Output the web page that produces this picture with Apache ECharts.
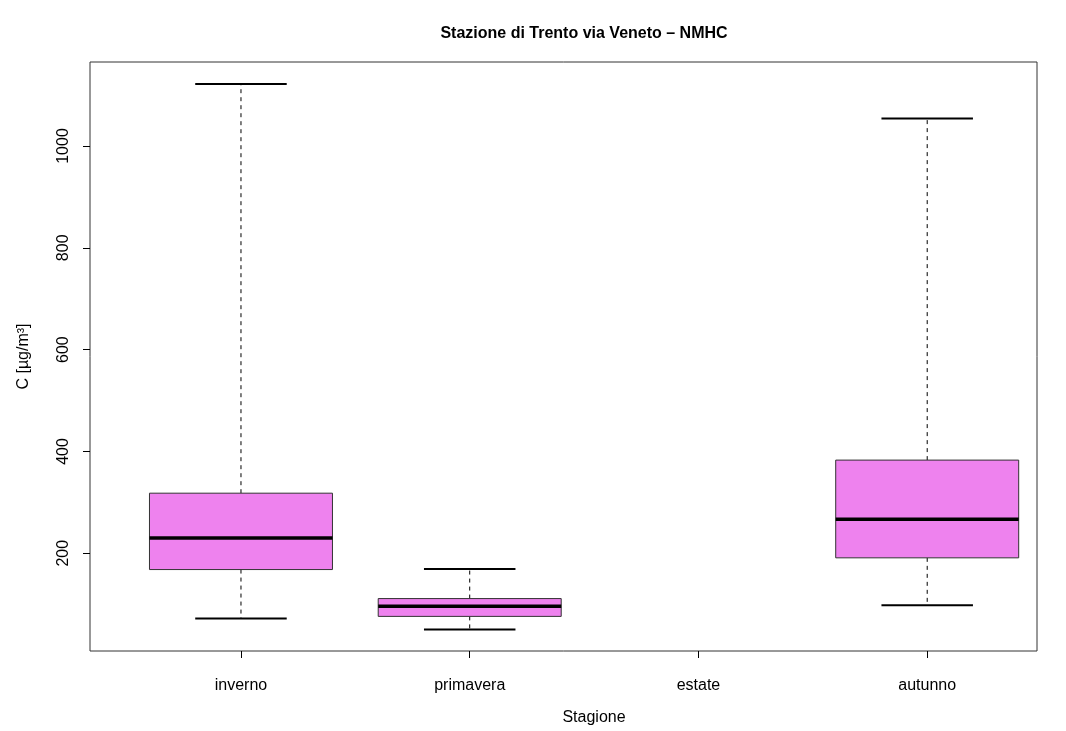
<!DOCTYPE html>
<html>
<head>
<meta charset="utf-8">
<script src="https://cdn.jsdelivr.net/npm/echarts@6/dist/echarts.min.js"></script>
<style>html,body{margin:0;padding:0;background:#fff}#c{width:1066px;height:731px}</style>
</head>
<body>
<div id="c"></div>
<script>
// Data
const categories = ['inverno', 'primavera', 'estate', 'autunno'];
const lowWhisker = [72, 50, null, 98];
const q1Values   = [168, 76, null, 191];
const medians    = [230, 96, null, 267];
const q3Values   = [318, 111, null, 383];
const highWhisker = [1122, 169, null, 1054];
const yTicks = [200, 400, 600, 800, 1000];
const xTicks = [1, 2, 3, 4];

const boxData = [];
for (let i = 0; i < categories.length; i++) {
  if (medians[i] == null) continue;
  boxData.push([i + 1, lowWhisker[i], q1Values[i], medians[i], q3Values[i], highWhisker[i]]);
}

const FONT = '"Liberation Sans", Arial, Helvetica, sans-serif';
const chart = echarts.init(document.getElementById('c'), null, {renderer: 'canvas'});

function renderItem(params, api) {
  const x = api.value(0);
  const lo = api.coord([x, api.value(1)]);
  const q1 = api.coord([x, api.value(2)]);
  const md = api.coord([x, api.value(3)]);
  const q3 = api.coord([x, api.value(4)]);
  const hi = api.coord([x, api.value(5)]);
  const boxW = api.size([0.8, 0])[0];
  const capW = api.size([0.4, 0])[0];
  const cx = md[0];
  const dash = {stroke: '#000', lineWidth: 1, lineDash: [4, 4]};
  return {
    type: 'group',
    children: [
      {type: 'line', shape: {x1: cx, y1: q3[1], x2: cx, y2: hi[1]}, style: dash},
      {type: 'line', shape: {x1: cx, y1: q1[1], x2: cx, y2: lo[1]}, style: dash},
      {type: 'line', shape: {x1: cx - capW / 2, y1: hi[1], x2: cx + capW / 2, y2: hi[1]}, style: {stroke: '#000', lineWidth: 2}},
      {type: 'line', shape: {x1: cx - capW / 2, y1: lo[1], x2: cx + capW / 2, y2: lo[1]}, style: {stroke: '#000', lineWidth: 2}},
      {type: 'rect', shape: {x: cx - boxW / 2, y: q3[1], width: boxW, height: q1[1] - q3[1]},
        style: {fill: '#EE82EE', stroke: '#333', lineWidth: 1}},
      {type: 'line', shape: {x1: cx - boxW / 2, y1: md[1], x2: cx + boxW / 2, y2: md[1]}, style: {stroke: '#000', lineWidth: 3.5}}
    ]
  };
}

chart.setOption({
  animation: false,
  backgroundColor: '#fff',
  title: {
    text: 'Stazione di Trento via Veneto \u2013 NMHC',
    left: 579, top: 21, textAlign: 'center',
    textStyle: {fontFamily: FONT, fontSize: 16, fontWeight: 'bold', color: '#000'}
  },
  graphic: [{
    type: 'text', left: 594, top: 710,
    style: {text: 'Stagione', x: 0, y: 0, align: 'center', font: '16px ' + FONT, fill: '#000'},
    position: [594, 710], left: null, top: null
  }],
  grid: {left: 90, top: 62, width: 947, height: 589, show: true, borderColor: '#333', borderWidth: 1, backgroundColor: 'transparent'},
  xAxis: {
    type: 'value', min: 0.34, max: 4.48,
    axisLine: {show: false},
    splitLine: {show: false},
    axisTick: {show: true, customValues: xTicks, length: 7, lineStyle: {color: '#000'}},
    axisLabel: {customValues: xTicks, margin: 27, fontFamily: FONT, fontSize: 16, color: '#000',
      formatter: v => categories[Math.round(v) - 1] || ''}
  },
  yAxis: {
    type: 'value', min: 8, max: 1165,
    name: 'C [\u00b5g/m\u00b3]', nameLocation: 'middle', nameGap: 58, nameRotate: 90,
    nameTextStyle: {fontFamily: FONT, fontSize: 16, color: '#000'},
    axisLine: {show: false},
    splitLine: {show: false},
    axisTick: {show: true, customValues: yTicks, length: 7, lineStyle: {color: '#000'}},
    axisLabel: {customValues: yTicks, rotate: 90, margin: 18, fontFamily: FONT, fontSize: 16, color: '#000',
      formatter: v => String(v)}
  },
  series: [{
    type: 'custom',
    renderItem: renderItem,
    encode: {x: 0, y: [1, 2, 3, 4, 5]},
    data: boxData,
    clip: false
  }]
});
</script>
</body>
</html>
